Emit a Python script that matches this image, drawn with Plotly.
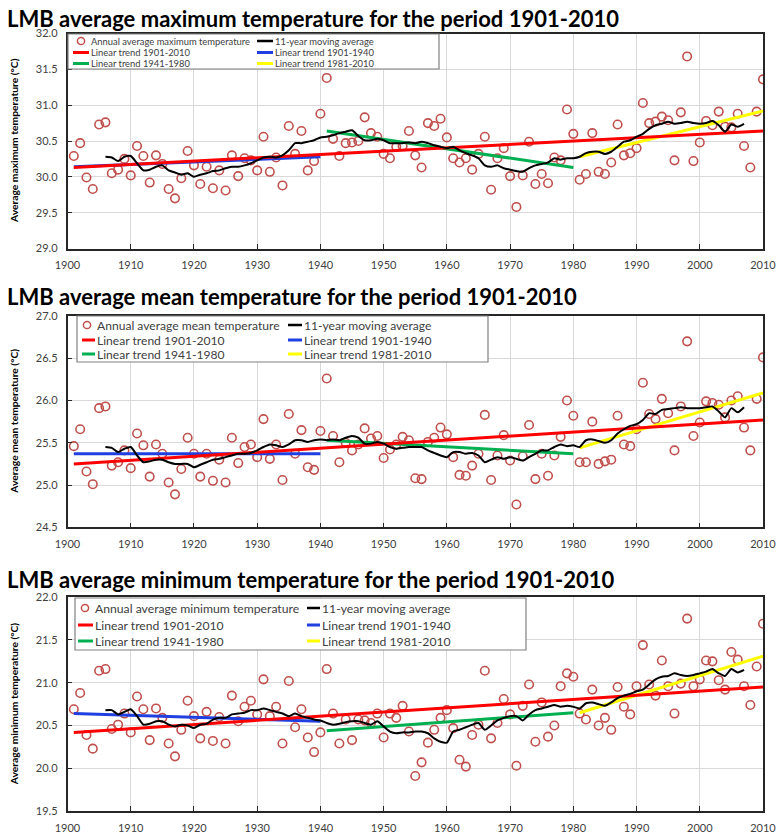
import plotly.graph_objects as go

W, H = 777, 834

def px(x):
    return x / W

def py(y):
    return 1 - y / H

# ---------------- DATA ----------------
years = list(range(1901, 2011))
ma_years = list(range(1906, 2008))
x_ticks = list(range(1900, 2011, 10))

tmax_annual = [30.29, 30.47, 29.99, 29.83, 30.73, 30.76, 30.05, 30.10, 30.25, 30.02,
               30.43, 30.29, 29.92, 30.30, 30.18, 29.83, 29.70, 29.98, 30.36, 30.16,
               29.90, 30.14, 29.84, 30.09, 29.81, 30.30, 30.01, 30.26, 30.23, 30.09,
               30.56, 30.07, 30.27, 29.88, 30.71, 30.32, 30.64, 30.09, 30.22, 30.88,
               31.38, 30.53, 30.29, 30.47, 30.48, 30.50, 30.83, 30.61, 30.56, 30.32,
               30.26, 30.42, 30.43, 30.64, 30.30, 30.13, 30.75, 30.71, 30.81, 30.55,
               30.26, 30.20, 30.26, 30.10, 30.32, 30.56, 29.82, 30.26, 30.40, 30.01,
               29.58, 30.02, 30.49, 29.90, 30.04, 29.91, 30.27, 30.23, 30.94, 30.60,
               29.96, 30.04, 30.61, 30.07, 30.04, 30.20, 30.73, 30.30, 30.33, 30.40,
               31.03, 30.75, 30.77, 30.84, 30.79, 30.23, 30.90, 31.68, 30.22, 30.48,
               30.78, 30.72, 30.91, 30.70, 30.69, 30.88, 30.43, 30.13, 30.91, 31.36]

tmax_ma = [30.28, 30.27, 30.22, 30.28, 30.29, 30.19, 30.09, 30.10, 30.14, 30.16,
           30.09, 30.06, 30.03, 30.05, 30.00, 30.03, 30.05, 30.08, 30.09, 30.12,
           30.14, 30.14, 30.16, 30.19, 30.23, 30.27, 30.28, 30.27, 30.30, 30.37,
           30.47, 30.47, 30.49, 30.51, 30.55, 30.56, 30.58, 30.61, 30.63, 30.65,
           30.57, 30.51, 30.51, 30.53, 30.51, 30.47, 30.47, 30.47, 30.48, 30.47,
           30.49, 30.47, 30.44, 30.42, 30.40, 30.42, 30.37, 30.33, 30.30, 30.26,
           30.16, 30.14, 30.16, 30.12, 30.10, 30.08, 30.07, 30.12, 30.16, 30.18,
           30.20, 30.26, 30.24, 30.26, 30.26, 30.28, 30.33, 30.35, 30.35, 30.32,
           30.35, 30.42, 30.49, 30.51, 30.56, 30.60, 30.67, 30.72, 30.74, 30.77,
           30.74, 30.75, 30.77, 30.75, 30.74, 30.75, 30.78, 30.72, 30.63, 30.73,
           30.70, 30.74]

tmean_annual = [25.46, 25.66, 25.16, 25.01, 25.91, 25.93, 25.23, 25.27, 25.41, 25.20,
                25.61, 25.47, 25.10, 25.48, 25.37, 25.03, 24.89, 25.19, 25.56, 25.37,
                25.10, 25.37, 25.05, 25.30, 25.03, 25.56, 25.26, 25.45, 25.48, 25.33,
                25.78, 25.31, 25.48, 25.06, 25.84, 25.37, 25.65, 25.21, 25.18, 25.64,
                26.26, 25.58, 25.27, 25.50, 25.41, 25.48, 25.67, 25.55, 25.58, 25.32,
                25.42, 25.48, 25.57, 25.53, 25.08, 25.07, 25.51, 25.56, 25.68, 25.60,
                25.33, 25.12, 25.11, 25.23, 25.37, 25.83, 25.06, 25.35, 25.59, 25.29,
                24.77, 25.34, 25.71, 25.07, 25.37, 25.11, 25.35, 25.57, 26.00, 25.82,
                25.27, 25.27, 25.75, 25.25, 25.28, 25.30, 25.82, 25.48, 25.46, 25.66,
                26.21, 25.84, 25.78, 26.02, 25.85, 25.41, 25.93, 26.70, 25.58, 25.74,
                25.99, 25.97, 25.95, 25.80, 26.00, 26.05, 25.68, 25.41, 26.02, 26.51]

tmean_ma = [25.45, 25.44, 25.39, 25.43, 25.45, 25.35, 25.27, 25.28, 25.30, 25.30,
            25.27, 25.25, 25.25, 25.25, 25.21, 25.24, 25.27, 25.30, 25.31, 25.33,
            25.35, 25.37, 25.37, 25.38, 25.41, 25.45, 25.48, 25.47, 25.45, 25.48,
            25.53, 25.53, 25.51, 25.53, 25.54, 25.53, 25.54, 25.53, 25.56, 25.58,
            25.56, 25.49, 25.49, 25.51, 25.49, 25.45, 25.43, 25.44, 25.45, 25.45,
            25.45, 25.41, 25.38, 25.35, 25.33, 25.39, 25.39, 25.37, 25.38, 25.35,
            25.27, 25.30, 25.33, 25.31, 25.33, 25.31, 25.29, 25.33, 25.37, 25.41,
            25.41, 25.45, 25.48, 25.46, 25.47, 25.45, 25.53, 25.54, 25.52, 25.50,
            25.53, 25.61, 25.66, 25.70, 25.72, 25.77, 25.85, 25.84, 25.89, 25.90,
            25.91, 25.92, 25.91, 25.91, 25.91, 25.92, 25.93, 25.87, 25.80, 25.91,
            25.86, 25.92]

tmin_annual = [20.69, 20.88, 20.39, 20.23, 21.14, 21.16, 20.46, 20.51, 20.64, 20.42,
               20.84, 20.69, 20.33, 20.70, 20.59, 20.29, 20.14, 20.45, 20.79, 20.61,
               20.35, 20.66, 20.32, 20.60, 20.29, 20.85, 20.55, 20.72, 20.79, 20.63,
               21.04, 20.61, 20.72, 20.29, 21.02, 20.48, 20.69, 20.36, 20.19, 20.42,
               21.16, 20.64, 20.29, 20.57, 20.33, 20.57, 20.56, 20.53, 20.64, 20.36,
               20.64, 20.59, 20.73, 20.43, 19.91, 20.07, 20.30, 20.45, 20.59, 20.68,
               20.47, 20.10, 20.02, 20.39, 20.51, 21.14, 20.35, 20.53, 20.81, 20.63,
               20.03, 20.73, 20.98, 20.31, 20.77, 20.37, 20.50, 20.96, 21.11, 21.07,
               20.64, 20.57, 20.92, 20.50, 20.59, 20.45, 20.95, 20.72, 20.63, 20.96,
               21.44, 20.98, 20.85, 21.26, 20.96, 20.64, 20.99, 21.75, 20.96, 21.04,
               21.26, 21.25, 21.03, 20.92, 21.36, 21.27, 20.96, 20.74, 21.19, 21.69]

tmin_ma = [20.68, 20.68, 20.63, 20.66, 20.69, 20.61, 20.51, 20.52, 20.55, 20.55,
           20.51, 20.49, 20.51, 20.50, 20.47, 20.51, 20.52, 20.57, 20.59, 20.59,
           20.63, 20.64, 20.65, 20.68, 20.68, 20.70, 20.68, 20.66, 20.64, 20.61,
           20.64, 20.61, 20.59, 20.57, 20.56, 20.53, 20.51, 20.52, 20.54, 20.55,
           20.55, 20.53, 20.51, 20.55, 20.49, 20.43, 20.41, 20.42, 20.42, 20.43,
           20.43, 20.41, 20.35, 20.31, 20.30, 20.43, 20.45, 20.48, 20.51, 20.53,
           20.45, 20.50, 20.56, 20.59, 20.61, 20.61, 20.56, 20.63, 20.68, 20.70,
           20.72, 20.74, 20.72, 20.73, 20.72, 20.70, 20.76, 20.77, 20.75, 20.73,
           20.77, 20.82, 20.85, 20.87, 20.90, 20.92, 20.98, 21.04, 21.07, 21.08,
           21.11, 21.09, 21.08, 21.09, 21.11, 21.13, 21.16, 21.11, 21.08, 21.16,
           21.12, 21.15]

trend_periods = [(1901, 2010), (1901, 1940), (1941, 1980), (1981, 2010)]
trend_names = ["Linear trend 1901-2010", "Linear trend 1901-1940",
               "Linear trend 1941-1980", "Linear trend 1981-2010"]
tmax_trend_ends = [(30.13, 30.64), (30.14, 30.28), (30.64, 30.13), (30.28, 30.92)]
tmean_trend_ends = [(25.25, 25.77), (25.37, 25.37), (25.53, 25.37), (25.44, 26.09)]
tmin_trend_ends = [(20.42, 20.95), (20.64, 20.55), (20.44, 20.65), (20.65, 21.31)]

titles = ["LMB average maximum temperature for the period 1901-2010",
          "LMB average mean temperature for the period 1901-2010",
          "LMB average minimum temperature for the period 1901-2010"]
y_titles = ["Average maximum temperature (\u00b0C)",
            "Average mean temperature (\u00b0C)",
            "Average minimum temperature (\u00b0C)"]
annual_names = ["Annual average maximum temperature",
                "Annual average mean temperature",
                "Annual average minimum temperature"]
ma_name = "11-year moving average"
y_ranges = [(29.0, 32.0), (24.5, 27.0), (19.5, 22.0)]

# ---------------- STYLE / LAYOUT ----------------
FONT = "Lato, 'Open Sans', sans-serif"
MARKER_COLOR = "#c0504d"
trend_colors = ["#ff0000", "#1f3fe0", "#00b050", "#ffff00"]

panels = [
    dict(annual=tmax_annual, ma=tmax_ma, trends=tmax_trend_ends,
         top=33.5, bottom=248.5, title_y=19,
         leg=dict(box=(68, 34, 439, 69), rows=(41, 52.5, 63.5),
                  sym1=81, line1=(73, 89), text1=89, line2=(257, 273), text2=273, fs=9.4)),
    dict(annual=tmean_annual, ma=tmean_ma, trends=tmean_trend_ends,
         top=316, bottom=527.3, title_y=296,
         leg=dict(box=(77, 316, 488, 362), rows=(325, 340, 354),
                  sym1=87, line1=(82, 95), text1=95, line2=(288, 302), text2=302, fs=12.1)),
    dict(annual=tmin_annual, ma=tmin_ma, trends=tmin_trend_ends,
         top=597.2, bottom=811.1, title_y=579,
         leg=dict(box=(75, 598, 526, 650), rows=(608, 625, 641),
                  sym1=85, line1=(78, 93), text1=93, line2=(307, 320), text2=320, fs=12.2)),
]

fig = go.Figure()
shapes = []
annotations = []

for i, p in enumerate(panels):
    n = "" if i == 0 else str(i + 1)
    xa, ya = "x" + n, "y" + n
    fig.add_trace(go.Scatter(
        x=years, y=p["annual"], mode="markers", name=annual_names[i],
        xaxis=xa, yaxis=ya, showlegend=False,
        marker=dict(symbol="circle-open", size=8.5, color=MARKER_COLOR,
                    line=dict(width=1.6, color=MARKER_COLOR))))
    for k, (per, ends) in enumerate(zip(trend_periods, p["trends"])):
        if k == 0:
            continue
        fig.add_trace(go.Scatter(
            x=list(per), y=list(ends), mode="lines", name=trend_names[k],
            xaxis=xa, yaxis=ya, showlegend=False,
            line=dict(color=trend_colors[k], width=3)))
    per, ends = trend_periods[0], p["trends"][0]
    fig.add_trace(go.Scatter(
        x=list(per), y=list(ends), mode="lines", name=trend_names[0],
        xaxis=xa, yaxis=ya, showlegend=False,
        line=dict(color=trend_colors[0], width=3)))
    fig.add_trace(go.Scatter(
        x=ma_years, y=p["ma"], mode="lines", name=ma_name,
        xaxis=xa, yaxis=ya, showlegend=False,
        line=dict(color="black", width=2, shape="spline", smoothing=0.6)))

    axis_common = dict(showgrid=True, gridcolor="#d9d9d9", gridwidth=1,
                       zeroline=False, showline=True, linecolor="#262626",
                       linewidth=1.5, mirror=True, ticks="inside", ticklen=5,
                       tickcolor="#262626", automargin=False,
                       tickfont=dict(family=FONT, size=11, color="#404040"))
    fig.layout["xaxis" + n] = dict(
        axis_common, domain=[px(67.5), px(763)], range=[1900, 2010],
        tickvals=x_ticks, anchor=ya, ticklabelstandoff=6)
    fig.layout["yaxis" + n] = dict(
        axis_common, domain=[py(p["bottom"]), py(p["top"])],
        range=list(y_ranges[i]), dtick=0.5, tick0=y_ranges[i][0],
        tickformat=".1f", anchor=xa, ticklabelstandoff=6)

    annotations.append(dict(
        text=titles[i], xref="paper", yref="paper", x=px(5), y=py(p["title_y"]),
        xanchor="left", yanchor="middle", showarrow=False,
        font=dict(family=FONT, size=22, color="black", weight="bold")))
    annotations.append(dict(
        text=y_titles[i], xref="paper", yref="paper", x=px(14),
        y=py((p["top"] + p["bottom"]) / 2), xanchor="center", yanchor="middle",
        textangle=-90, showarrow=False,
        font=dict(family=FONT, size=10.3, color="black", weight="bold")))

    # legend box (two columns, three rows)
    L = p["leg"]
    bx0, by0, bx1, by1 = L["box"]
    shapes.append(dict(type="rect", xref="paper", yref="paper",
                       x0=px(bx0), x1=px(bx1), y0=py(by1), y1=py(by0),
                       fillcolor="white", line=dict(color="#808080", width=1.2),
                       layer="above"))
    r1, r2, r3 = L["rows"]
    cx, cy, rr = L["sym1"], r1, 3.6
    shapes.append(dict(type="circle", xref="paper", yref="paper",
                       x0=px(cx - rr), x1=px(cx + rr), y0=py(cy + rr), y1=py(cy - rr),
                       line=dict(color=MARKER_COLOR, width=1.5), layer="above"))
    entries = [
        (L["line1"], L["text1"], r2, trend_colors[0], trend_names[0], 3),
        (L["line1"], L["text1"], r3, trend_colors[2], trend_names[2], 3),
        (L["line2"], L["text2"], r1, "black", ma_name, 2.5),
        (L["line2"], L["text2"], r2, trend_colors[1], trend_names[1], 3),
        (L["line2"], L["text2"], r3, trend_colors[3], trend_names[3], 3),
    ]
    for (lx0, lx1), tx, ry, col, name, lw in entries:
        shapes.append(dict(type="line", xref="paper", yref="paper",
                           x0=px(lx0), x1=px(lx1), y0=py(ry), y1=py(ry),
                           line=dict(color=col, width=lw), layer="above"))
        annotations.append(dict(text=name, xref="paper", yref="paper",
                                x=px(tx), y=py(ry), xanchor="left", yanchor="middle",
                                showarrow=False,
                                font=dict(family=FONT, size=L["fs"], color="#404040")))
    annotations.append(dict(text=annual_names[i], xref="paper", yref="paper",
                            x=px(L["text1"]), y=py(r1), xanchor="left", yanchor="middle",
                            showarrow=False,
                            font=dict(family=FONT, size=L["fs"], color="#404040")))

fig.update_layout(
    width=W, height=H, margin=dict(l=0, r=0, t=0, b=0, autoexpand=False),
    paper_bgcolor="white", plot_bgcolor="white",
    showlegend=False, shapes=shapes, annotations=annotations,
    font=dict(family=FONT))

fig.write_html("out.html",
               config={"displayModeBar": False},
               post_script="document.body.style.margin='0';"
                           "document.documentElement.style.overflow='hidden';")
